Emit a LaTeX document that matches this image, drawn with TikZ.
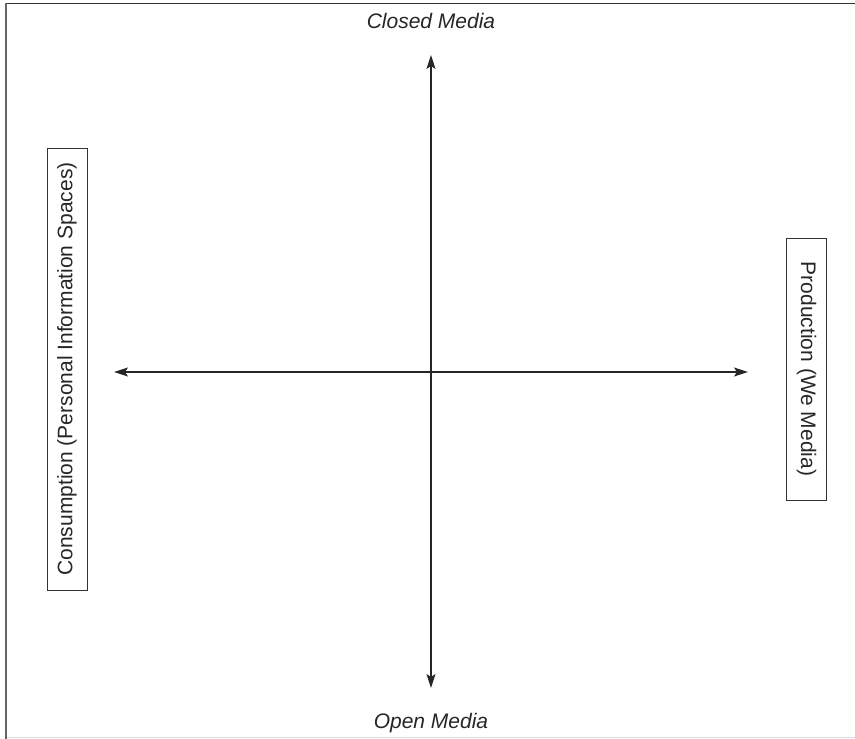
\documentclass[tikz,border=0pt]{standalone}
\usepackage{fontspec}
\setmainfont{Liberation Sans}
\usetikzlibrary{arrows.meta}
\definecolor{framedark}{HTML}{333333}
\definecolor{frameside}{HTML}{666666}
\definecolor{framelow}{HTML}{DDDDDD}

\begin{document}
\begin{tikzpicture}[x=1pt, y=-1pt,
  axis/.style={{Stealth[length=14pt, width=9pt, inset=3pt]}-{Stealth[length=14pt, width=9pt, inset=3pt]},
               line width=1.2pt, black!85},
  polebox/.style={draw=black!80, line width=0.9pt, minimum height=40pt, inner sep=0pt,
                  font=\fontsize{21}{25}\selectfont, text=black!85},
  polelabel/.style={anchor=base, inner sep=0pt, font=\fontsize{21}{25}\selectfont\itshape, text=black!85}
]
\useasboundingbox (0,0) rectangle (855,739);

% frame
\draw[framedark, line width=1.7pt] (5,3.5) -- (855,3.5);
\draw[frameside, line width=2.5pt] (6,2.5) -- (6,739);
\draw[framelow, line width=1.5pt] (7,737.5) -- (855,737.5);

% poles
\node[polelabel] (closed) at (431,28) {Closed Media};
\node[polelabel] (open)   at (431,728) {Open Media};
\node[polebox, rotate=90, minimum width=442pt]  (consume) at (67,369)  {Consumption (Personal Information Spaces)};
\node[polebox, rotate=-90, minimum width=262pt] (produce) at (806.5,369) {Production (We Media)};

% axes
\coordinate (ytop)    at (431,55);
\coordinate (ybottom) at (431,688);
\coordinate (xleft)   at (114,372);
\coordinate (xright)  at (748,372);

\draw[axis] (ybottom) -- (ytop);
\draw[axis] (xleft) -- (xright);
\end{tikzpicture}
\end{document}
